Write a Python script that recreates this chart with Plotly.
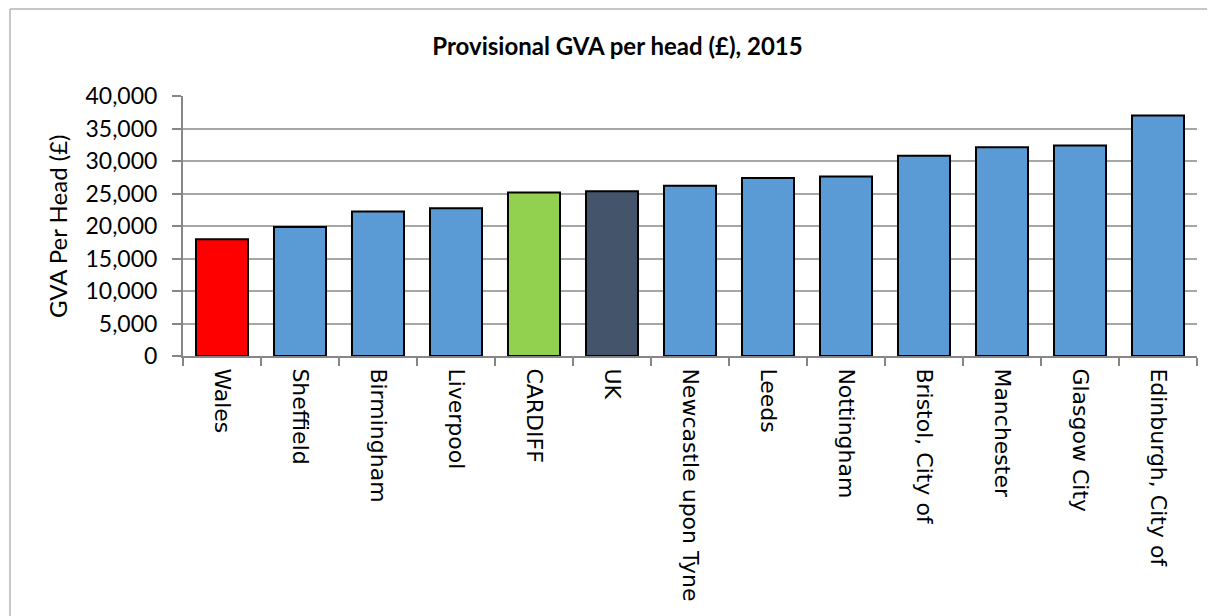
import plotly.graph_objects as go

categories = ["Wales", "Sheffield", "Birmingham", "Liverpool", "CARDIFF", "UK",
              "Newcastle upon Tyne", "Leeds", "Nottingham", "Bristol, City of",
              "Manchester", "Glasgow City", "Edinburgh, City of"]
values = [17950, 19850, 22250, 22750, 25150, 25350, 26200, 27400, 27600,
          30800, 32100, 32400, 37000]
bar_colors = ["#FF0000", "#5B9BD5", "#5B9BD5", "#5B9BD5", "#92D050", "#44546A",
              "#5B9BD5", "#5B9BD5", "#5B9BD5", "#5B9BD5", "#5B9BD5", "#5B9BD5", "#5B9BD5"]
y_ticks = [0, 5000, 10000, 15000, 20000, 25000, 30000, 35000, 40000]
y_tick_text = ["0", "5,000", "10,000", "15,000", "20,000", "25,000", "30,000", "35,000", "40,000"]

# page body has an 8px margin; lay out in screen pixels and shift by it
OFF = 8
SW, SH = 1215, 616
W, H = SW - OFF, SH - OFF
ml, mr, mt, mb = 183 - OFF, SW - 1197, 96 - OFF, SH - 356
pw, ph = W - ml - mr, H - mt - mb

fig = go.Figure(go.Bar(
    x=categories, y=values,
    marker=dict(color=bar_colors, line=dict(color="#000000", width=2)),
))

def sx(px):  # screen x -> paper
    return (px - OFF - ml) / pw

def sy(py):  # screen y -> paper
    return (H - mb - (py - OFF)) / ph

fig.update_layout(
    width=W, height=H,
    margin=dict(l=ml, r=mr, t=mt, b=mb, autoexpand=False),
    paper_bgcolor="white", plot_bgcolor="white",
    bargap=0.333,
    showlegend=False,
    title=dict(text="<b>Provisional GVA per head (£), 2015</b>",
               font=dict(family="Lato", size=24, color="#000000"),
               x=(617.5 - OFF) / W, xref="container", xanchor="center",
               y=1 - (47 - OFF) / H, yref="container", yanchor="middle"),
    xaxis=dict(
        type="category", tickangle=90,
        tickfont=dict(family="DejaVu Sans", size=22, color="#000000"),
        ticklabelstandoff=6,
        showline=True, linecolor="#868686", linewidth=2,
        ticks="outside", tickson="boundaries", ticklen=8, tickcolor="#868686", tickwidth=1.5,
        showgrid=False,
    ),
    yaxis=dict(
        range=[0, 40000], tickvals=y_ticks, ticktext=y_tick_text,
        tickfont=dict(family="Lato", size=23, color="#000000"),
        ticklabelstandoff=10,
        showline=True, linecolor="#868686", linewidth=2,
        ticks="outside", ticklen=9, tickcolor="#868686", tickwidth=1.5,
        showgrid=True, gridcolor="#A6A6A6", gridwidth=1.5,
        zeroline=False,
    ),
    annotations=[dict(
        text="GVA Per Head (£)", textangle=-90, showarrow=False,
        xref="paper", yref="paper", x=sx(57), y=sy(227),
        xanchor="center", yanchor="middle",
        font=dict(family="Lato", size=24, color="#000000"),
    )],
    shapes=[
        dict(type="line", xref="paper", yref="paper",
             x0=sx(10), x1=sx(10), y0=sy(SH + 5), y1=sy(9),
             line=dict(color="#B4B4B4", width=1.5)),
        dict(type="line", xref="paper", yref="paper",
             x0=sx(10), x1=sx(SW + 5), y0=sy(9), y1=sy(9),
             line=dict(color="#B4B4B4", width=1.5)),
    ],
)

fig.write_html("out.html")
